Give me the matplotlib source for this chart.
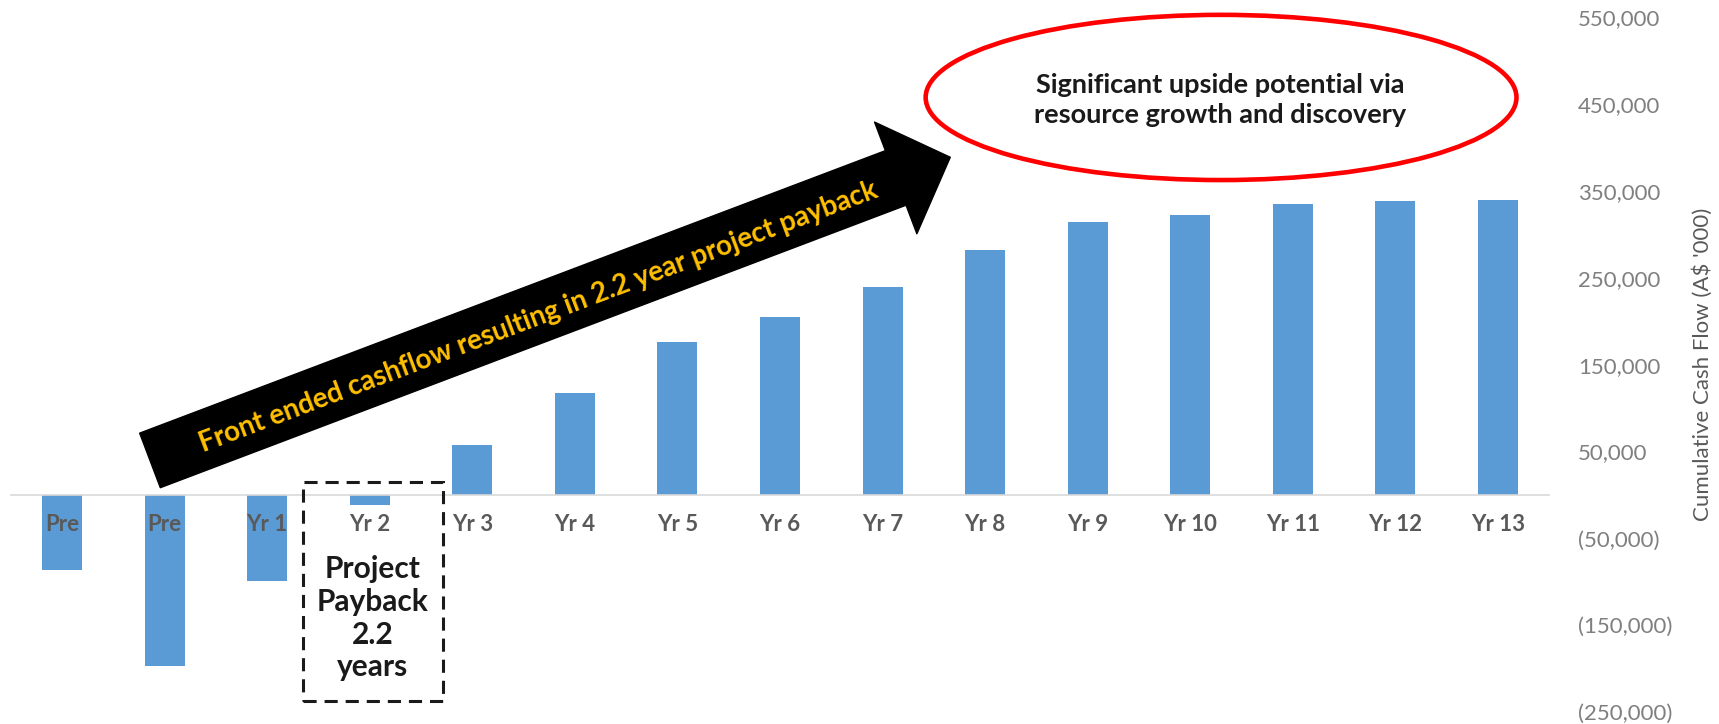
import matplotlib
matplotlib.use("Agg")
import matplotlib.pyplot as plt
from matplotlib.patches import Ellipse, Rectangle
from matplotlib.ticker import FuncFormatter

# data (A$ '000)
categories = ["Pre", "Pre", "Yr 1", "Yr 2", "Yr 3", "Yr 4", "Yr 5", "Yr 6",
              "Yr 7", "Yr 8", "Yr 9", "Yr 10", "Yr 11", "Yr 12", "Yr 13"]
cum_cash = [-86000, -197000, -99000, -12000, 57000, 117000, 176000, 205000,
            239000, 282000, 314000, 322000, 335000, 339000, 340000]
yticks = [-250000, -150000, -50000, 50000, 150000, 250000, 350000, 450000, 550000]

plt.rcParams['font.family'] = ['Lato', 'DejaVu Sans']

W, H = 1719, 724
fig = plt.figure(figsize=(W / 100, H / 100), dpi=100)
ax = fig.add_axes([10.7 / W, (H - 712) / H, 1538.6 / W, (712 - 17.5) / H])

x = list(range(len(categories)))
ax.bar(x, cum_cash, width=0.39, color='#5B9BD5', zorder=1)

ax.set_xlim(-0.5, 14.5)
ax.set_ylim(-250000, 550000)

# category axis sits on zero
for s in ['top', 'right', 'left']:
    ax.spines[s].set_visible(False)
ax.spines['bottom'].set_position(('data', 0))
ax.spines['bottom'].set_color('#D9D9D9')
ax.spines['bottom'].set_linewidth(1.2)
ax.set_xticks(x, categories)
ax.tick_params(axis='x', length=0, pad=14, labelsize=16, labelcolor='#595959')
for lab in ax.get_xticklabels():
    lab.set_fontweight('bold')

ax.yaxis.tick_right()
ax.set_yticks(yticks)
ax.yaxis.set_major_formatter(FuncFormatter(
    lambda v, p: f"{v:,.0f}" if v >= 0 else f"({-v:,.0f})"))
ax.tick_params(axis='y', length=0, pad=20.7, labelsize=16, labelcolor='#7F7F7F')
for lab in ax.get_yticklabels():
    lab.set_horizontalalignment('left')

ax.set_ylabel("Cumulative Cash Flow (A$ '000)", fontsize=16, color='#595959',
              rotation=90, va='center', ha='center')
ax.yaxis.set_label_coords(1.0999, 0.5)

# big arrow
ax.annotate("", xy=(8.66, 389000), xytext=(0.858, 39800),
            arrowprops=dict(arrowstyle="simple,head_length=42,head_width=86,tail_width=42",
                            color='black', shrinkA=0, shrinkB=0, mutation_scale=1),
            annotation_clip=False, zorder=5)
ax.text(4.65, 204700, "Front ended cashflow resulting in 2.2 year project payback",
        rotation=20.7, rotation_mode='anchor', ha='center', va='center',
        fontsize=20, fontweight='bold', color='#FFC000', zorder=6)

# red ellipse
ax.add_patch(Ellipse((11.3, 457900), 5.76, 190300, fill=False,
                     edgecolor='#FF0000', linewidth=3.3, clip_on=False, zorder=5))
ax.text(11.29, 455000, "Significant upside potential via\nresource growth and discovery",
        ha='center', va='center', fontsize=19.5, fontweight='bold', color='#1a1a1a',
        linespacing=1.3, zorder=6)

# payback box
ax.add_patch(Rectangle((2.35, -237000), 1.36, 251400, fill=False,
                       edgecolor='#1a1a1a', linewidth=2.2, linestyle=(0, (4.3, 2.6)),
                       clip_on=False, zorder=5))
ax.text(3.03, -142000, "Project\nPayback\n2.2\nyears", ha='center', va='center',
        fontsize=21.5, fontweight='bold', color='#1a1a1a', linespacing=1.2, zorder=6)

fig.savefig("out.png", dpi=100)
